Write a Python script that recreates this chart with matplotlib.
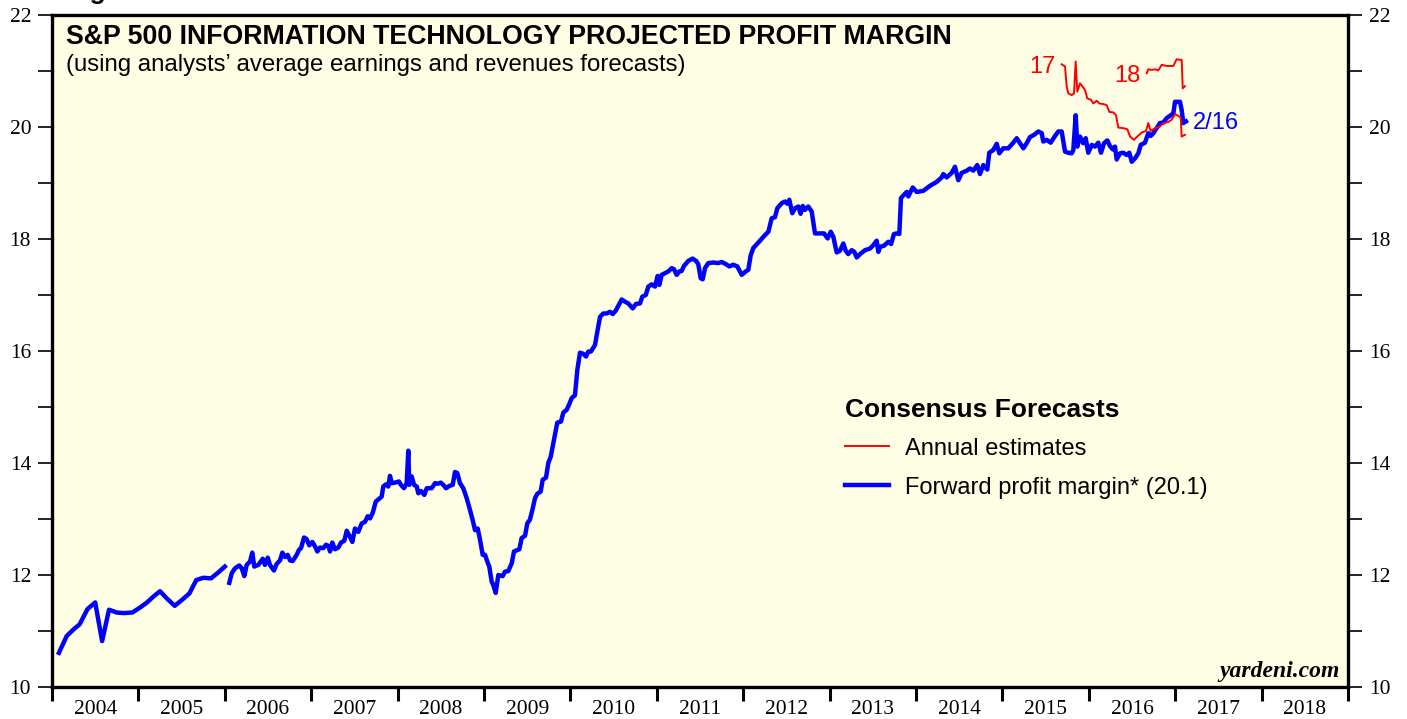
import matplotlib.pyplot as plt
from matplotlib.ticker import MultipleLocator, FixedLocator, NullFormatter

# Forward profit margin, monthly (2004-2005)
fwd_monthly_x = [2004.08, 2004.17, 2004.25, 2004.32, 2004.41, 2004.50, 2004.58, 2004.66,
                 2004.75, 2004.83, 2004.93, 2005.02, 2005.10, 2005.17, 2005.25, 2005.33,
                 2005.42, 2005.50, 2005.59, 2005.67, 2005.75, 2005.84, 2005.92, 2006.00]
fwd_monthly_y = [10.61, 10.91, 11.03, 11.12, 11.39, 11.51, 10.82, 11.38,
                 11.33, 11.32, 11.33, 11.42, 11.51, 11.61, 11.71, 11.58,
                 11.45, 11.55, 11.67, 11.91, 11.95, 11.94, 12.04, 12.15]

# Forward profit margin, weekly (2006 onwards), offset in years from 2004
fwd_weekly_t = [
    2.052, 2.080, 2.118, 2.168, 2.196, 2.226, 2.253, 2.292, 2.318, 2.341, 2.388, 2.439,
    2.465, 2.497, 2.523, 2.569, 2.601, 2.639, 2.666, 2.697, 2.728, 2.755, 2.786, 2.832,
    2.859, 2.882, 2.917, 2.948, 2.978, 3.013, 3.044, 3.071, 3.102, 3.140, 3.171, 3.198,
    3.218, 3.244, 3.275, 3.314, 3.345, 3.383, 3.411, 3.449, 3.476, 3.507, 3.545, 3.584,
    3.623, 3.654, 3.681, 3.712, 3.747, 3.777, 3.816, 3.834, 3.866, 3.892, 3.912, 3.932,
    3.970, 4.016, 4.039, 4.074, 4.105, 4.124, 4.135, 4.163, 4.190, 4.221, 4.240, 4.271,
    4.309, 4.337, 4.395, 4.433, 4.471, 4.499, 4.529, 4.560, 4.598, 4.638, 4.664, 4.691,
    4.722, 4.760, 4.800, 4.838, 4.869, 4.896, 4.927, 4.954, 4.985, 5.012, 5.038, 5.061,
    5.089, 5.108, 5.135, 5.166, 5.216, 5.243, 5.281, 5.321, 5.347, 5.409, 5.436, 5.475,
    5.501, 5.532, 5.564, 5.590, 5.617, 5.656, 5.679, 5.718, 5.744, 5.772, 5.810, 5.848,
    5.891, 5.918, 5.957, 5.984, 6.015, 6.053, 6.080, 6.111, 6.149, 6.181, 6.207, 6.238,
    6.285, 6.311, 6.343, 6.381, 6.420, 6.458, 6.490, 6.524, 6.566, 6.594, 6.632, 6.670,
    6.721, 6.759, 6.806, 6.832, 6.872, 6.902, 6.941, 6.979, 7.010, 7.029, 7.057, 7.095,
    7.133, 7.172, 7.199, 7.230, 7.260, 7.288, 7.315, 7.365, 7.415, 7.454, 7.480, 7.508,
    7.531, 7.558, 7.596, 7.654, 7.712, 7.751, 7.801, 7.839, 7.885, 7.932, 7.983, 8.029,
    8.059, 8.087, 8.117, 8.183, 8.252, 8.291, 8.330, 8.368, 8.395, 8.446, 8.484, 8.510,
    8.534, 8.568, 8.600, 8.638, 8.665, 8.689, 8.715, 8.753, 8.793, 8.831, 8.889, 8.935,
    8.978, 9.013, 9.043, 9.082, 9.120, 9.159, 9.186, 9.216, 9.256, 9.286, 9.314, 9.352,
    9.410, 9.468, 9.506, 9.545, 9.564, 9.583, 9.630, 9.679, 9.711, 9.745, 9.784, 9.807,
    9.826, 9.861, 9.892, 9.911, 9.962, 10.008, 10.084, 10.162, 10.240, 10.297, 10.316, 10.355,
    10.413, 10.451, 10.490, 10.529, 10.587, 10.625, 10.663, 10.709, 10.741, 10.779, 10.825, 10.848,
    10.895, 10.934, 10.964, 11.010, 11.068, 11.126, 11.166, 11.204, 11.242, 11.281, 11.319, 11.366,
    11.416, 11.455, 11.473, 11.513, 11.559, 11.609, 11.647, 11.686, 11.725, 11.763, 11.802, 11.821,
    11.848, 11.867, 11.898, 11.936, 11.964, 11.994, 12.034, 12.072, 12.110, 12.141, 12.176, 12.214,
    12.245, 12.277, 12.303, 12.323, 12.361, 12.399, 12.439, 12.469, 12.497, 12.535, 12.573, 12.601,
    12.650, 12.689, 12.716, 12.747, 12.786, 12.824, 12.862, 12.902, 12.940, 12.978, 12.998, 13.056,
    13.075, 13.094, 13.125]
fwd_weekly_y = [
    11.86, 12.03, 12.12, 12.17, 12.12, 11.98, 12.18, 12.24, 12.40, 12.15, 12.18, 12.29,
    12.18, 12.31, 12.18, 12.08, 12.20, 12.26, 12.40, 12.32, 12.36, 12.26, 12.25, 12.36,
    12.45, 12.48, 12.67, 12.64, 12.53, 12.59, 12.51, 12.42, 12.49, 12.48, 12.54, 12.52,
    12.42, 12.58, 12.46, 12.49, 12.58, 12.61, 12.79, 12.68, 12.59, 12.83, 12.77, 12.92,
    12.95, 13.05, 13.01, 13.11, 13.31, 13.35, 13.40, 13.58, 13.62, 13.58, 13.77, 13.64,
    13.65, 13.67, 13.61, 13.55, 13.64, 14.22, 13.61, 13.76, 13.61, 13.58, 13.46, 13.50,
    13.43, 13.55, 13.55, 13.64, 13.63, 13.65, 13.61, 13.55, 13.59, 13.61, 13.84, 13.82,
    13.64, 13.55, 13.37, 13.16, 12.98, 12.80, 12.83, 12.63, 12.36, 12.36, 12.24, 12.15,
    11.88, 11.82, 11.68, 12.00, 11.98, 12.06, 12.07, 12.21, 12.42, 12.46, 12.66, 12.70,
    12.92, 12.99, 13.19, 13.37, 13.45, 13.49, 13.70, 13.74, 14.00, 14.11, 14.41, 14.72,
    14.74, 14.90, 14.95, 15.04, 15.16, 15.21, 15.66, 15.97, 15.95, 15.90, 15.99, 15.99,
    16.11, 16.34, 16.61, 16.67, 16.67, 16.70, 16.66, 16.72, 16.84, 16.92, 16.88, 16.85,
    16.76, 16.84, 16.85, 16.97, 17.00, 17.15, 17.19, 17.15, 17.34, 17.18, 17.36, 17.39,
    17.42, 17.48, 17.46, 17.36, 17.42, 17.43, 17.52, 17.61, 17.65, 17.61, 17.55, 17.30,
    17.28, 17.48, 17.57, 17.58, 17.57, 17.59, 17.55, 17.51, 17.54, 17.51, 17.36, 17.42,
    17.45, 17.71, 17.84, 17.95, 18.07, 18.13, 18.37, 18.39, 18.55, 18.64, 18.67, 18.63,
    18.70, 18.46, 18.55, 18.58, 18.45, 18.59, 18.52, 18.58, 18.49, 18.10, 18.10, 18.10,
    18.01, 18.13, 18.04, 17.76, 17.79, 17.92, 17.79, 17.73, 17.80, 17.77, 17.67, 17.73,
    17.80, 17.83, 17.89, 17.97, 17.77, 17.86, 17.88, 17.95, 17.91, 18.09, 18.10, 18.09,
    18.73, 18.79, 18.84, 18.76, 18.92, 18.84, 18.86, 18.95, 19.02, 19.10, 19.16, 19.10,
    19.18, 19.29, 19.05, 19.18, 19.22, 19.26, 19.22, 19.32, 19.16, 19.32, 19.24, 19.54,
    19.59, 19.70, 19.53, 19.62, 19.62, 19.72, 19.80, 19.71, 19.62, 19.71, 19.82, 19.86,
    19.92, 19.89, 19.74, 19.77, 19.72, 19.84, 19.92, 19.92, 19.56, 19.54, 19.53, 19.59,
    20.21, 19.65, 19.83, 19.71, 19.80, 19.54, 19.68, 19.65, 19.72, 19.54, 19.71, 19.76,
    19.66, 19.60, 19.65, 19.42, 19.53, 19.54, 19.50, 19.54, 19.38, 19.44, 19.53, 19.68,
    19.72, 19.89, 19.84, 19.89, 19.98, 20.07, 20.08, 20.16, 20.20, 20.24, 20.45, 20.45,
    20.30, 20.07, 20.10]

# Annual estimates: 2017 and 2018 (offset in years from 2004)
est17_t = [11.686, 11.725, 11.744, 11.763, 11.802, 11.829, 11.848, 11.867, 11.898, 11.929,
           11.956, 11.983, 12.022, 12.052, 12.091, 12.122, 12.168, 12.207, 12.237, 12.284,
           12.315, 12.341, 12.399, 12.446, 12.477, 12.523, 12.561, 12.612, 12.662, 12.689,
           12.716, 12.747, 12.786, 12.824, 12.862, 12.920, 12.959, 12.998, 13.036, 13.064,
           13.075, 13.113]
est17_y = [21.12, 21.08, 20.72, 20.60, 20.57, 20.60, 21.17, 20.63, 20.78, 20.72,
           20.66, 20.51, 20.49, 20.42, 20.47, 20.42, 20.41, 20.39, 20.27, 20.26,
           20.21, 19.99, 19.98, 19.96, 19.83, 19.77, 19.83, 19.90, 19.93, 20.07,
           19.93, 19.96, 19.99, 20.01, 20.07, 20.09, 20.13, 20.23, 20.20, 20.17,
           19.83, 19.86]
est18_t = [12.670, 12.689, 12.728, 12.766, 12.804, 12.844, 12.902, 12.978, 13.017, 13.056,
           13.075, 13.087, 13.113]
est18_y = [20.96, 21.03, 21.02, 21.03, 21.01, 21.11, 21.09, 21.09, 21.21, 21.20,
           21.20, 20.69, 20.73]

years = list(range(2004, 2019))

fwd_weekly_x = [2004 + t for t in fwd_weekly_t]
est17_x = [2004 + t for t in est17_t]
est18_x = [2004 + t for t in est18_t]

sans = ['Liberation Sans', 'DejaVu Sans']
serif = ['Liberation Serif', 'DejaVu Serif']

fig = plt.figure(figsize=(14.07, 7.19), dpi=100)
ax = fig.add_axes([52 / 1407, 1 - 687 / 719, 1296 / 1407, 672 / 719])
ax.set_facecolor('#FEFEE4')

blue = '#0000FF'
red = '#FF0000'
ax.plot(fwd_monthly_x, fwd_monthly_y, color=blue, lw=3.2, solid_joinstyle='round')
line_fwd, = ax.plot(fwd_weekly_x, fwd_weekly_y, color=blue, lw=3.2, solid_joinstyle='round')
line_est, = ax.plot(est17_x, est17_y, color=red, lw=1.4)
ax.plot(est18_x, est18_y, color=red, lw=1.4)

ax.set_xlim(2004, 2019)
ax.set_ylim(10, 22)

# x axis: ticks at year boundaries, labels centred in each year
ax.xaxis.set_major_locator(FixedLocator(years + [2019]))
ax.xaxis.set_major_formatter(NullFormatter())
ax.xaxis.set_minor_locator(FixedLocator([y + 0.5 for y in years]))
ax.set_xticklabels([str(y) for y in years], minor=True)
ax.tick_params(axis='x', which='major', direction='out', length=10, width=2.2)
ax.tick_params(axis='x', which='minor', length=0, pad=9)

ax.yaxis.set_major_locator(MultipleLocator(2))
ax.yaxis.set_minor_locator(MultipleLocator(1))
ax.tick_params(axis='y', which='both', direction='out', length=10, width=1.2,
               left=True, right=True, labelleft=True, labelright=True, pad=5)

for lab in ax.get_xticklabels(minor=True) + ax.get_yticklabels():
    lab.set_family(serif)
    lab.set_fontsize(15.5)

for sp in ax.spines.values():
    sp.set_linewidth(2.4)

ax.text(0.011, 0.968, 'S&P 500 INFORMATION TECHNOLOGY PROJECTED PROFIT MARGIN',
        transform=ax.transAxes, fontsize=19.3, fontweight='bold', family=sans, va='center')
ax.text(0.011, 0.925, '(using analysts\u2019 average earnings and revenues forecasts)',
        transform=ax.transAxes, fontsize=17.3, family=sans, va='center')

fig.text(66 / 1407, 1 + 1 / 719, 'Figure', fontsize=19, fontweight='bold',
         family=sans, va='baseline')

ax.text(est17_x[0] - 0.07, est17_y[0] - 0.05, '17', color=red, fontsize=17, family=sans,
        ha='right', va='center')
ax.text(est18_x[0] - 0.07, est18_y[0] - 0.05, '18', color=red, fontsize=17, family=sans,
        ha='right', va='center')
ax.text(fwd_weekly_x[-1] + 0.08, fwd_weekly_y[-1] - 0.02, '2/16', color=blue, fontsize=17,
        family=sans, ha='left', va='center')

leg = ax.legend([line_est, line_fwd], ['Annual estimates', 'Forward profit margin* (20.1)'],
                loc='upper left', bbox_to_anchor=(0.5955, 0.461), frameon=False,
                prop={'family': sans, 'size': 17}, handlelength=1.85, handletextpad=0.7,
                labelspacing=0.72, title='Consensus Forecasts',
                title_fontproperties={'family': sans, 'size': 19, 'weight': 'bold'})
leg._legend_box.align = 'left'
leg._legend_box.sep = 11

ax.text(0.9935, 0.008, 'yardeni.com', transform=ax.transAxes, ha='right', va='bottom',
        fontsize=17, fontweight='bold', fontstyle='italic', family=serif)

fig.savefig('out.png', dpi=100)
